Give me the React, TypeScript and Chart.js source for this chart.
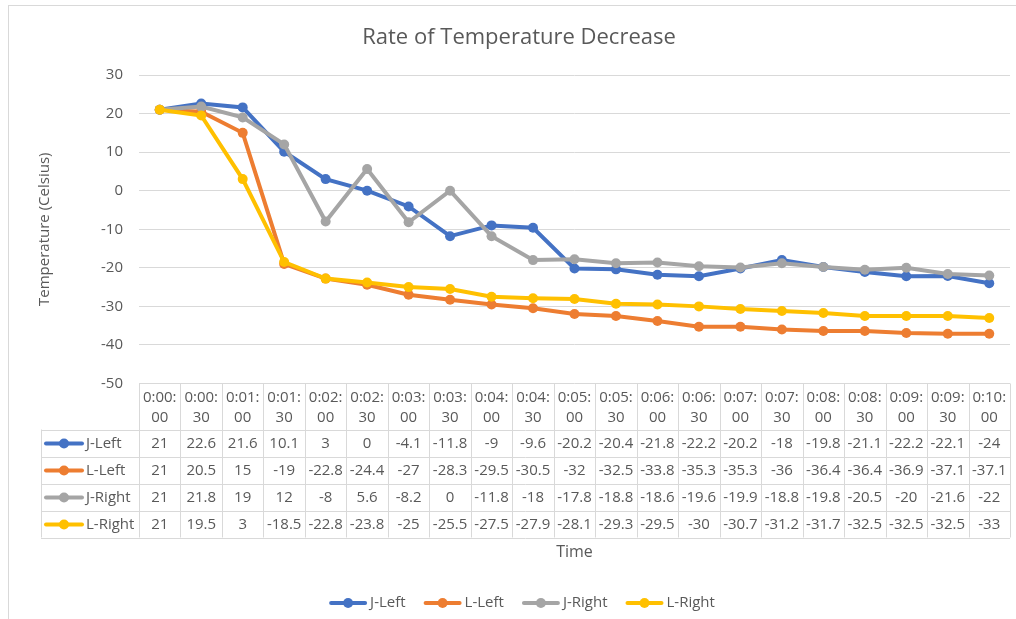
import React, { useEffect, useRef } from "react";
import { Chart, registerables } from "chart.js";

Chart.register(...registerables);

const categories: string[] = [
  "0:00:00", "0:00:30", "0:01:00", "0:01:30", "0:02:00", "0:02:30", "0:03:00",
  "0:03:30", "0:04:00", "0:04:30", "0:05:00", "0:05:30", "0:06:00", "0:06:30",
  "0:07:00", "0:07:30", "0:08:00", "0:08:30", "0:09:00", "0:09:30", "0:10:00",
];

const jLeft: number[] = [21, 22.6, 21.6, 10.1, 3, 0, -4.1, -11.8, -9, -9.6, -20.2, -20.4, -21.8, -22.2, -20.2, -18, -19.8, -21.1, -22.2, -22.1, -24];
const lLeft: number[] = [21, 20.5, 15, -19, -22.8, -24.4, -27, -28.3, -29.5, -30.5, -32, -32.5, -33.8, -35.3, -35.3, -36, -36.4, -36.4, -36.9, -37.1, -37.1];
const jRight: number[] = [21, 21.8, 19, 12, -8, 5.6, -8.2, 0, -11.8, -18, -17.8, -18.8, -18.6, -19.6, -19.9, -18.8, -19.8, -20.5, -20, -21.6, -22];
const lRight: number[] = [21, 19.5, 3, -18.5, -22.8, -23.8, -25, -25.5, -27.5, -27.9, -28.1, -29.3, -29.5, -30, -30.7, -31.2, -31.7, -32.5, -32.5, -32.5, -33];

const seriesNames: string[] = ["J-Left", "L-Left", "J-Right", "L-Right"];
const seriesColors: string[] = ["#4472C4", "#ED7D31", "#A5A5A5", "#FFC000"];
const seriesValues: number[][] = [jLeft, lLeft, jRight, lRight];

const titleText = "Rate of Temperature Decrease";
const yTitle = "Temperature (Celsius)";
const xTitle = "Time";

const FONT = "'Open Sans', 'Noto Sans', sans-serif";
const TEXT = "#595959";
const GRID = "#d9d9d9";

const fmt = (v: number) => String(v);

const tablePlugin = {
  id: "excelTable",
  afterDraw(chart: any) {
    const ctx: CanvasRenderingContext2D = chart.ctx;
    const x = chart.scales.x;
    const area = chart.chartArea;
    const n = categories.length;
    const colW = (area.right - area.left) / n;
    const top = area.bottom;
    const headerH = 46;
    const rowH = 27;
    const legendLeft = 41;
    const rowsTop = top + headerH;
    const bottom = rowsTop + rowH * seriesNames.length;

    ctx.save();
    // title
    ctx.fillStyle = TEXT;
    ctx.font = `22px ${FONT}`;
    ctx.textAlign = "center";
    ctx.textBaseline = "middle";
    ctx.fillText(titleText, 519, 38);

    // grid lines of table
    ctx.strokeStyle = GRID;
    ctx.lineWidth = 1;
    ctx.beginPath();
    for (let i = 0; i <= n; i++) {
      const cx = Math.round(area.left + i * colW) + 0.5;
      ctx.moveTo(cx, top);
      ctx.lineTo(cx, bottom);
    }
    ctx.moveTo(legendLeft + 0.5, rowsTop);
    ctx.lineTo(legendLeft + 0.5, bottom);
    for (let r = 0; r <= seriesNames.length; r++) {
      const ry = Math.round(rowsTop + r * rowH) + 0.5;
      ctx.moveTo(legendLeft, ry);
      ctx.lineTo(area.right, ry);
    }
    ctx.stroke();

    // header labels
    ctx.fillStyle = TEXT;
    ctx.font = `15px ${FONT}`;
    ctx.textAlign = "center";
    ctx.textBaseline = "middle";
    categories.forEach((c, i) => {
      const cx = x.getPixelForValue(i);
      const parts = c.split(":");
      ctx.fillText(parts[0] + ":" + parts[1] + ":", cx, top + 14);
      ctx.fillText(parts[2], cx, top + 34);
    });

    // rows
    seriesNames.forEach((name, r) => {
      const cy = rowsTop + r * rowH + rowH / 2 + 0.5;
      const col = seriesColors[r];
      ctx.strokeStyle = col;
      ctx.lineWidth = 4;
      ctx.lineCap = "round";
      ctx.beginPath();
      ctx.moveTo(46, cy);
      ctx.lineTo(82, cy);
      ctx.stroke();
      ctx.fillStyle = col;
      ctx.beginPath();
      ctx.arc(64, cy, 5, 0, Math.PI * 2);
      ctx.fill();
      ctx.fillStyle = TEXT;
      ctx.textAlign = "left";
      ctx.fillText(name, 86, cy);
      ctx.textAlign = "center";
      seriesValues[r].forEach((v, i) => {
        ctx.fillText(fmt(v), x.getPixelForValue(i), cy);
      });
    });

    // x title
    ctx.font = `16px ${FONT}`;
    ctx.fillText(xTitle, (area.left + area.right) / 2, 552);

    // bottom legend
    ctx.font = `15px ${FONT}`;
    const keyW = 38;
    const gapKey = 3;
    const gapItem = 18;
    const widths = seriesNames.map((s) => keyW + gapKey + ctx.measureText(s).width);
    const total = widths.reduce((a, b) => a + b, 0) + gapItem * (widths.length - 1);
    let lx = 522 - total / 2;
    const ly = 603;
    seriesNames.forEach((s, i) => {
      const col = seriesColors[i];
      ctx.strokeStyle = col;
      ctx.lineWidth = 4;
      ctx.lineCap = "round";
      ctx.beginPath();
      ctx.moveTo(lx + 2, ly);
      ctx.lineTo(lx + keyW - 2, ly);
      ctx.stroke();
      ctx.fillStyle = col;
      ctx.beginPath();
      ctx.arc(lx + keyW / 2, ly, 5, 0, Math.PI * 2);
      ctx.fill();
      ctx.fillStyle = TEXT;
      ctx.textAlign = "left";
      ctx.fillText(s, lx + keyW + gapKey, ly);
      lx += widths[i] + gapItem;
    });
    ctx.restore();
  },
};

export default function App() {
  const ref = useRef<HTMLCanvasElement | null>(null);
  useEffect(() => {
    if (!ref.current) return;
    const chart = new Chart(ref.current, {
      type: "line",
      data: {
        labels: categories,
        datasets: seriesNames.map((name, i) => ({
          label: name,
          data: seriesValues[i],
          borderColor: seriesColors[i],
          backgroundColor: seriesColors[i],
          pointBackgroundColor: seriesColors[i],
          pointBorderColor: seriesColors[i],
          borderWidth: 4,
          pointRadius: 5,
          pointBorderWidth: 0,
          tension: 0,
          order: 3 - i,
        })),
      },
      options: {
        responsive: false,
        animation: false,
        devicePixelRatio: 1,
        layout: { padding: { left: 0, top: 75, right: 6, bottom: 235.5 } },
        plugins: {
          legend: { display: false },
          title: { display: false },
          tooltip: { enabled: false },
        },
        scales: {
          x: {
            type: "category",
            offset: true,
            display: false,
          },
          y: {
            min: -50,
            max: 30,
            ticks: {
              stepSize: 10,
              color: TEXT,
              font: { family: FONT, size: 15 },
              padding: 16,
            },
            grid: { color: GRID, lineWidth: 1, drawTicks: false },
            border: { display: false },
            title: {
              display: true,
              text: yTitle,
              color: TEXT,
              font: { family: FONT, size: 15 },
              padding: { top: 36, bottom: 0 },
            },
            afterFit: (s: any) => {
              s.width = 139;
            },
          },
        },
      } as any,
      plugins: [tablePlugin],
    });
    return () => chart.destroy();
  }, []);

  return (
    <div>
      <div
        style={{
          position: "fixed",
          left: 8,
          top: 5,
          width: 1040,
          height: 660,
          border: "1px solid #d9d9d9",
          boxSizing: "border-box",
        }}
      />
      <canvas
        ref={ref}
        width={1016}
        height={619}
        style={{ position: "fixed", left: 0, top: 0, display: "block" }}
      />
    </div>
  );
}
